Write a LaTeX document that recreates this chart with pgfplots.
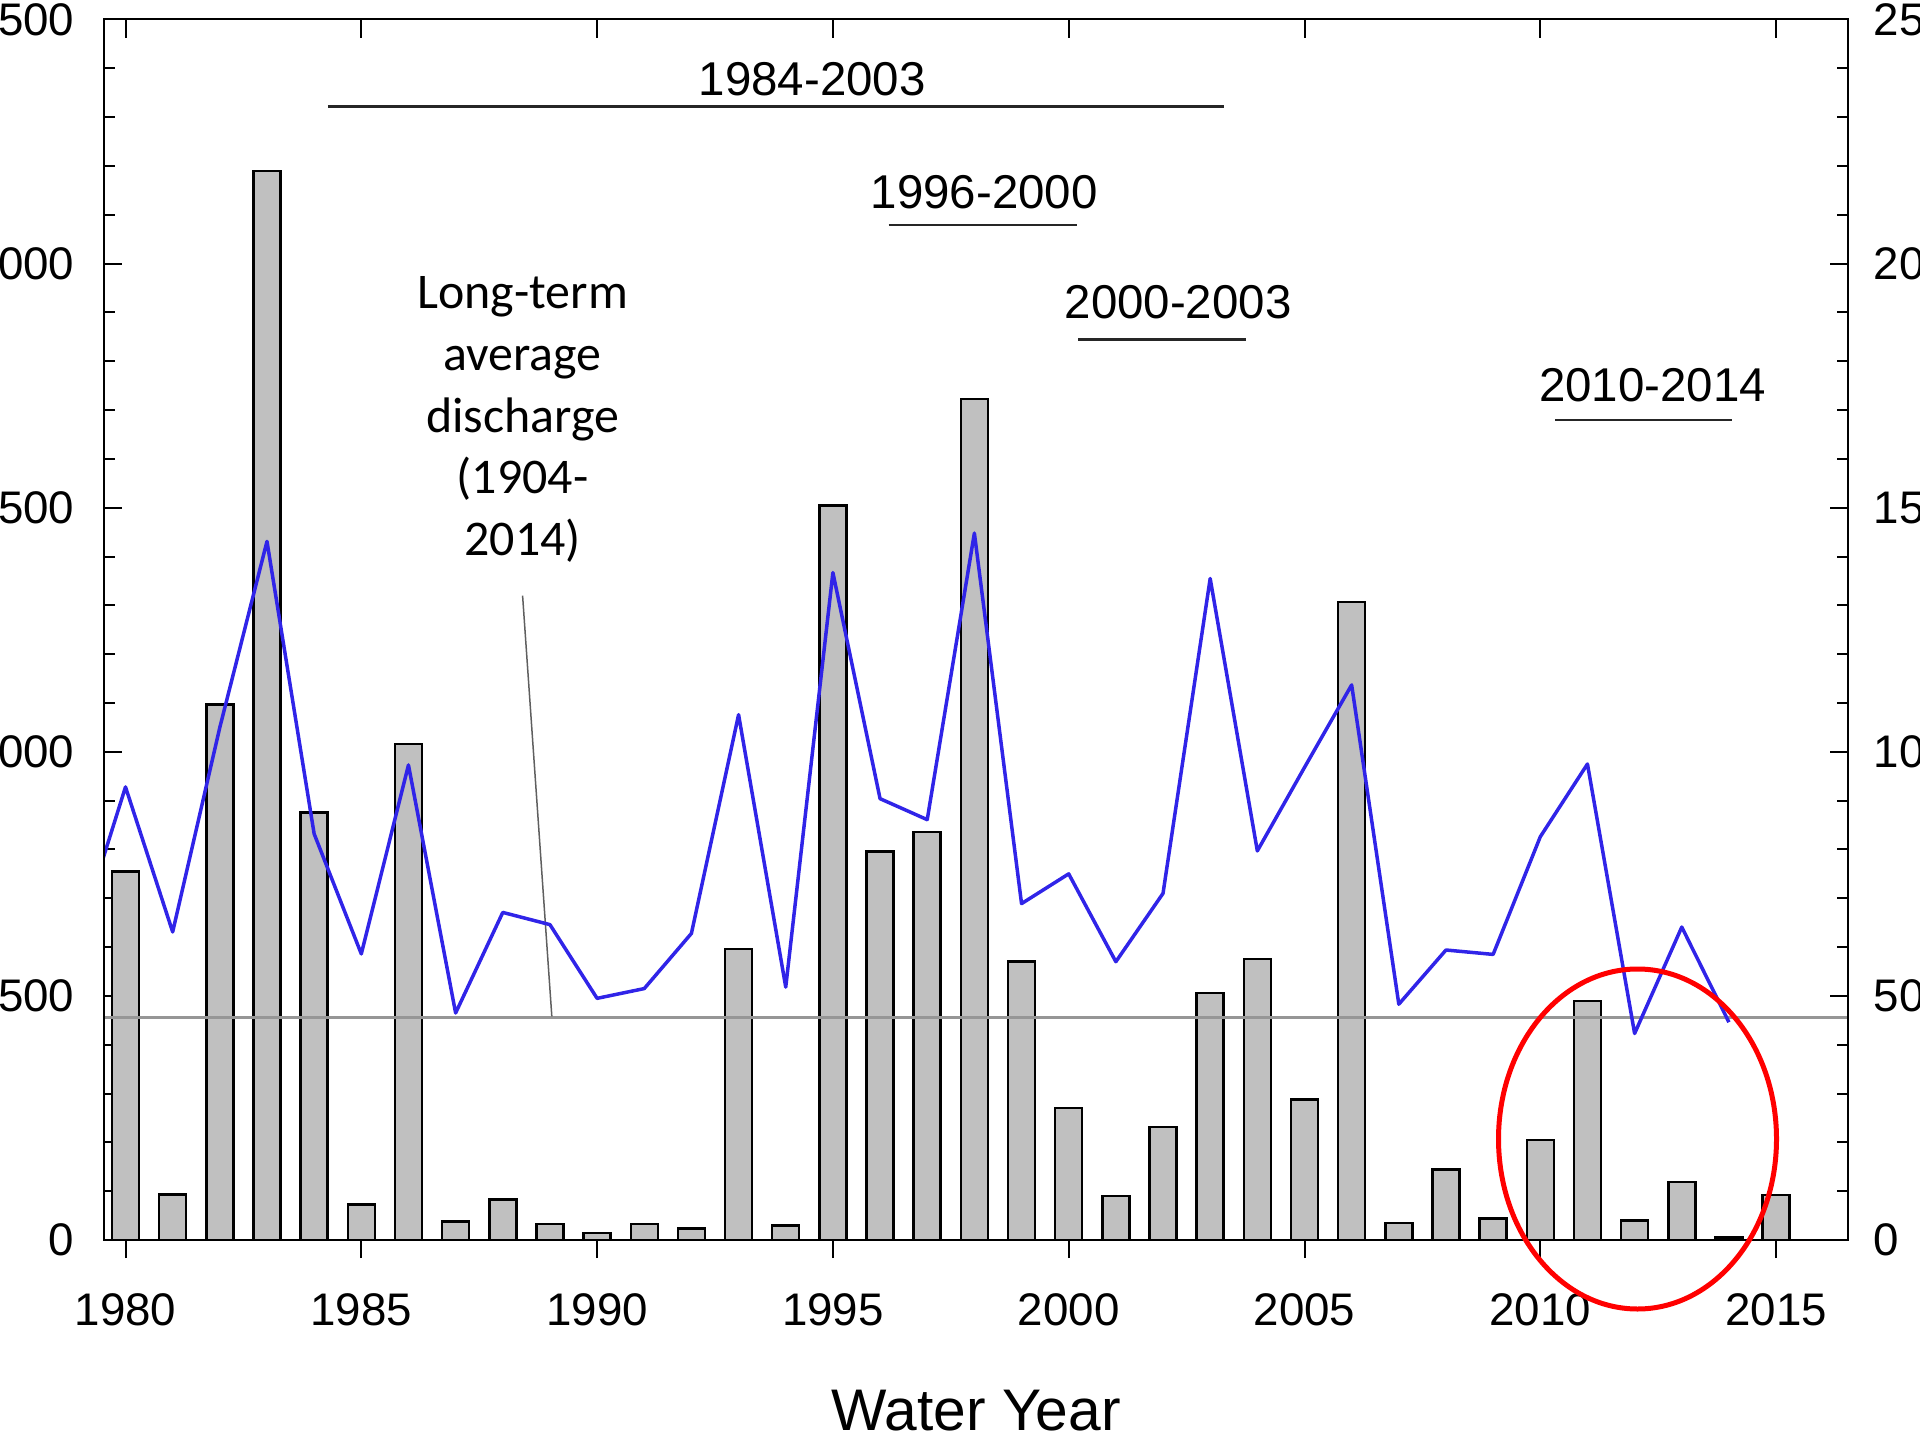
\documentclass[border=0pt]{standalone}
\usepackage{pgfplots}
\pgfplotsset{compat=1.18}
\usepackage{fontspec}
\setmainfont{Liberation Sans}
\newfontfamily\calibri{Carlito}
\definecolor{barfill}{RGB}{192,192,192}
\definecolor{flowblue}{RGB}{48,36,232}
\definecolor{avggray}{RGB}{150,150,150}
\definecolor{pointgray}{RGB}{95,95,95}

\pgfplotsset{
  common/.style={
    scale only axis, width=174.4mm, height=122.05mm,
    xmin=1979.544, xmax=2016.525,
    axis line style={line width=0.2mm, black},
    tick style={line width=0.2mm, black},
    major tick length=1.8mm, minor tick length=1.15mm,
    tick label style={font=\fontsize{13}{13}\selectfont, inner sep=0pt},
    scaled ticks=false,
    /pgf/number format/1000 sep={},
    /pgf/number format/assume math mode=true,
  }
}

\begin{document}
\begin{tikzpicture}
\useasboundingbox (-10.4mm,-20mm) rectangle (181.6mm,124mm);
\clip (-10.4mm,-20mm) rectangle (181.6mm,124mm);

% Axis A: bars, left axis, top ticks
\begin{axis}[common,
  ymin=0, ymax=2500,
  ytick={0,500,1000,1500,2000,2500}, minor y tick num=4,
  ytick pos=left, tick align=inside,
  yticklabel style={anchor=east, xshift=-2.9mm},
  xtick={1980,1985,1990,1995,2000,2005,2010,2015}, xtick pos=top,
  xticklabels={},
]
\addplot[ybar, bar width=2.7mm, fill=barfill, draw=black, line width=0.25mm] coordinates {
(1980,755) (1981,93) (1982,1097) (1983,2190) (1984,876) (1985,73) (1986,1016)
(1987,38) (1988,83) (1989,33) (1990,14) (1991,33) (1992,24) (1993,596)
(1994,30) (1995,1504) (1996,796) (1997,836) (1998,1723) (1999,570) (2000,270)
(2001,90) (2002,231) (2003,506) (2004,576) (2005,288) (2006,1307) (2007,35)
(2008,144) (2009,44) (2010,205) (2011,490) (2012,40) (2013,119) (2014,5) (2015,92)
};
\draw[avggray, line width=0.3mm] (axis cs:1979.544,455) -- (axis cs:2016.525,455);
\draw[pointgray, line width=0.15mm] (axis cs:1988.42,1320) -- (axis cs:1989.04,458);

\node[font=\fontsize{13.5}{13.5}\selectfont, inner sep=0pt] at (axis cs:1994.56,2378) {1984-2003};
\draw[black!85, line width=0.25mm] (axis cs:1984.29,2322) -- (axis cs:2003.30,2322);
\node[font=\fontsize{13.5}{13.5}\selectfont, inner sep=0pt] at (axis cs:1998.21,2146) {1996-2000};
\draw[black!85, line width=0.25mm] (axis cs:1996.18,2079) -- (axis cs:2000.18,2079);
\node[font=\fontsize{13.5}{13.5}\selectfont, inner sep=0pt] at (axis cs:2002.32,1920) {2000-2003};
\draw[black!85, line width=0.25mm] (axis cs:2000.20,1845) -- (axis cs:2003.75,1845);
\node[font=\fontsize{13.5}{13.5}\selectfont, inner sep=0pt] at (axis cs:2012.38,1750) {2010-2014};
\draw[black!85, line width=0.25mm] (axis cs:2010.32,1680) -- (axis cs:2014.07,1680);

\node[font=\calibri\fontsize{14.2}{14.2}\selectfont, anchor=base, inner sep=0pt] at (axis cs:1988.42,1908) {Long-term};
\node[font=\calibri\fontsize{14.2}{14.2}\selectfont, anchor=base, inner sep=0pt] at (axis cs:1988.42,1782) {average};
\node[font=\calibri\fontsize{14.2}{14.2}\selectfont, anchor=base, inner sep=0pt] at (axis cs:1988.42,1655) {discharge};
\node[font=\calibri\fontsize{14.2}{14.2}\selectfont, anchor=base, inner sep=0pt] at (axis cs:1988.42,1529) {(1904-};
\node[font=\calibri\fontsize{14.2}{14.2}\selectfont, anchor=base, inner sep=0pt] at (axis cs:1988.42,1402) {2014)};
\end{axis}

% Axis B: discharge line, right axis
\begin{axis}[common,
  ymin=0, ymax=250,
  ytick={0,50,100,150,200,250}, minor y tick num=4,
  ytick pos=right, yticklabel pos=right, tick align=inside,
  yticklabel style={anchor=west, xshift=2.5mm},
  xtick=\empty,
]
\addplot[flowblue, line width=0.35mm, mark=none, line join=round] coordinates {
(1979,62) (1980,92.8) (1981,63.1) (1982,105) (1983,143.1) (1984,83.2) (1985,58.6)
(1986,97.3) (1987,46.5) (1988,67.1) (1989,64.6) (1990,49.5) (1991,51.5) (1992,62.8)
(1993,107.6) (1994,51.8) (1995,136.7) (1996,90.4) (1997,86.1) (1998,144.8) (1999,68.9)
(2000,75.0) (2001,57.0) (2002,71.0) (2003,135.5) (2004,79.7) (2005,96.8) (2006,113.7)
(2007,48.3) (2008,59.4) (2009,58.5) (2010,82.6) (2011,97.5) (2012,42.3) (2013,64.1) (2014,44.6)
};
\end{axis}

% Axis C: bottom ticks and labels
\begin{axis}[common,
  ymin=0, ymax=1, ytick=\empty,
  xtick={1980,1985,1990,1995,2000,2005,2010,2015}, xtick pos=bottom,
  tick align=outside,
  xticklabel style={anchor=base, yshift=-6.7mm},
  xlabel={Water Year},
  xlabel style={at={(axis description cs:0.5,0)}, anchor=base, yshift=-19mm, inner sep=0pt, font=\fontsize{16.7}{16.7}\selectfont},
]
\end{axis}

\draw[red, line width=0.5mm] (153.35mm,10.1mm) ellipse [x radius=13.9mm, y radius=17.0mm];
\end{tikzpicture}
\end{document}
